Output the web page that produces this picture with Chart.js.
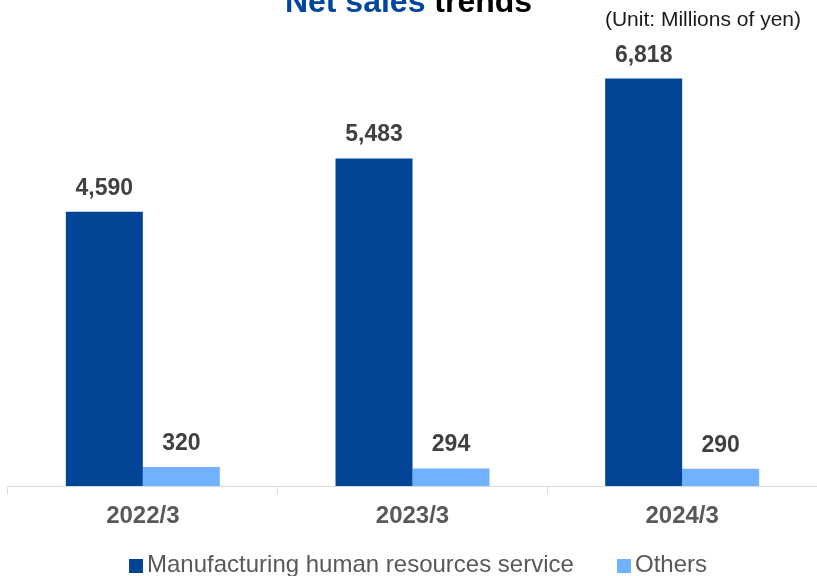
<!DOCTYPE html>
<html>
<head>
<meta charset="utf-8">
<script src="https://cdn.jsdelivr.net/npm/chart.js@4/dist/chart.umd.min.js"></script>
<style>
  html, body { margin: 0; padding: 0; background: #fff; overflow: hidden; }
  body { width: 817px; height: 576px; position: relative; font-family: Arial, 'Liberation Sans', sans-serif; }
  #wrap { position: absolute; left: 0; top: 0; width: 817px; height: 576px; }
  .title { position: absolute; left: 0; width: 817px; top: -15px; text-align: center; font-size: 32px; font-weight: bold; line-height: 1; color: #000; white-space: nowrap; }
  .title .hl { color: #0046a0; }
  .unit { position: absolute; right: 16px; top: 8px; font-size: 21px; line-height: 1; color: #1a1a1a; white-space: nowrap; }
  .legend-item { position: absolute; top: 552px; font-size: 24px; line-height: 1; color: #595959; white-space: nowrap; }
  .legend-item .box { display: inline-block; width: 14px; height: 14px; margin-right: 4px; vertical-align: -1px; }
</style>
</head>
<body>
<div id="wrap"><canvas id="salesChart" width="817" height="576"></canvas></div>
<div class="title"><span class="hl">Net sales</span> trends</div>
<div class="unit">(Unit: Millions of yen)</div>
<div id="legend"></div>
<script>
    // Chart data
    const categories = ['2022/3', '2023/3', '2024/3'];
    const manufacturingValues = [4590, 5483, 6818];
    const othersValues = [320, 294, 290];
    const seriesNames = ['Manufacturing human resources service', 'Others'];
    const seriesColors = ['#024495', '#70b2ff'];

    // legend (HTML, built from the series)
    const legendX = [129, 617];
    const legend = document.getElementById('legend');
    seriesNames.forEach((name, i) => {
        const item = document.createElement('div');
        item.className = 'legend-item';
        item.style.left = legendX[i] + 'px';
        item.innerHTML = `<span class="box" style="background:${seriesColors[i]}"></span>${name}`;
        legend.appendChild(item);
    });

    // value labels above bars
    const valueLabels = {
        id: 'valueLabels',
        afterDatasetsDraw(chart) {
            const ctx = chart.ctx;
            ctx.save();
            ctx.font = "bold 23px Arial, 'Liberation Sans', sans-serif";
            ctx.fillStyle = '#404040';
            ctx.textAlign = 'center';
            ctx.textBaseline = 'alphabetic';
            chart.data.datasets.forEach((ds, di) => {
                chart.getDatasetMeta(di).data.forEach((bar, i) => {
                    ctx.fillText(ds.data[i].toLocaleString('en-US'), bar.x, bar.y - 17);
                });
            });
            ctx.restore();
        }
    };

    const ctx = document.getElementById('salesChart').getContext('2d');
    new Chart(ctx, {
        type: 'bar',
        data: {
            labels: categories,
            datasets: [
                { label: seriesNames[0], data: manufacturingValues, backgroundColor: seriesColors[0] },
                { label: seriesNames[1], data: othersValues, backgroundColor: seriesColors[1] }
            ]
        },
        options: {
            responsive: false,
            animation: false,
            events: [],
            layout: { padding: { top: 8, left: 8, right: 0, bottom: 0 } },
            datasets: { bar: { categoryPercentage: 0.571, barPercentage: 1 } },
            scales: {
                x: {
                    grid: {
                        offset: true,
                        drawOnChartArea: false,
                        tickLength: 8,
                        color: '#d9d9d9'
                    },
                    border: { color: '#d9d9d9', width: 1 },
                    ticks: {
                        padding: 8,
                        color: '#595959',
                        font: { family: "Arial, 'Liberation Sans', sans-serif", size: 24, weight: 'bold' }
                    },
                    afterFit(scale) { scale.height = 90; }
                },
                y: {
                    display: false,
                    min: 0,
                    max: 8000
                }
            },
            plugins: {
                legend: { display: false },
                title: { display: false },
                tooltip: { enabled: false }
            }
        },
        plugins: [valueLabels]
    });
</script>
</body>
</html>
